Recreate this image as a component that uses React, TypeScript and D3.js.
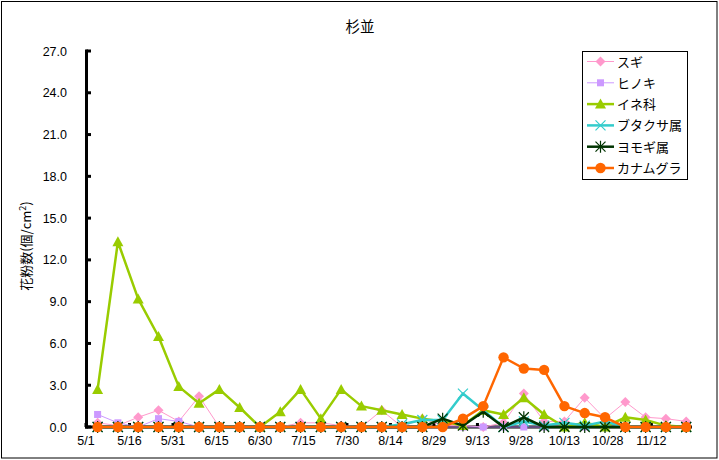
import React from "react";
import * as d3 from "d3";

const dates = ["5/5","5/12","5/19","5/26","6/2","6/9","6/16","6/23","6/30","7/7","7/14","7/21","7/28","8/4","8/11","8/18","8/25","9/1","9/8","9/15","9/22","9/29","10/6","10/13","10/20","10/27","11/3","11/10","11/17","11/24"];
const tickLabels = ["5/1","5/16","5/31","6/15","6/30","7/15","7/30","8/14","8/29","9/13","9/28","10/13","10/28","11/12"];
const yTicks = [0,3,6,9,12,15,18,21,24,27];

const sugi = [0.3,0.1,0.7,1.2,0.4,2.2,0,0,0,0,0.3,0.3,0.1,0,1.2,0,0.6,0.1,0.1,0,0.3,2.4,0.4,0.4,2.1,0.6,1.8,0.7,0.6,0.4];
const hinoki = [0.9,0.3,0,0.6,0.4,0,0,0,0,0,0,0,0,0,0,0,0,0,0,0,0,0,0,0,0,0,0,0,0,0];
const ine = [2.7,13.3,9.2,6.5,2.9,1.7,2.7,1.4,0,1.1,2.7,0.6,2.7,1.5,1.2,0.9,0.6,0.4,0.1,1.2,0.9,2.1,0.9,0,0.3,0,0.7,0.5,0.1,0];
const butakusa = [0,0,0,0,0,0,0,0,0,0,0,0,0,0,0,0.2,0.5,0.5,2.4,1.2,0,0.4,0.1,0.3,0.1,0.4,0,0,0,0];
const yomogi = [0,0,0,0,0,0,0,0,0,0,0,0,0,0,0,0,0,0.6,0.1,1.1,0,0.7,0,0,0,0,0,0,0,0];
const kanamugura = [0,0,0,0,0,0,0,0,0,0,0,0,0,0,0,0,0,0,0.6,1.5,5.0,4.2,4.1,1.5,1.0,0.7,0,0,0,0];

type Marker = "diamond" | "square" | "triangle" | "x" | "star" | "circle";
const series: { name: string; values: number[]; color: string; width: number; marker: Marker }[] = [
  { name: "スギ", values: sugi, color: "#FF99CC", width: 1, marker: "diamond" },
  { name: "ヒノキ", values: hinoki, color: "#CC99FF", width: 1, marker: "square" },
  { name: "イネ科", values: ine, color: "#99CC00", width: 2.5, marker: "triangle" },
  { name: "ブタクサ属", values: butakusa, color: "#33CCCC", width: 2.5, marker: "x" },
  { name: "ヨモギ属", values: yomogi, color: "#003300", width: 2.5, marker: "star" },
  { name: "カナムグラ", values: kanamugura, color: "#FF6600", width: 2.5, marker: "circle" },
];

const YEAR = 2013;
const parse = (s: string) => {
  const [m, d] = s.split("/").map(Number);
  return new Date(Date.UTC(YEAR, m - 1, d));
};

const W = 719, H = 460;
const x = d3.scaleUtc().domain([parse("5/1"), parse("11/26")]).range([86, 692]);
const y = d3.scaleLinear().domain([0, 27]).range([427, 51]);

function MarkerShape({ type, cx, cy, color }: { type: Marker; cx: number; cy: number; color: string }) {
  switch (type) {
    case "diamond":
      return <path d={`M${cx},${cy - 5}L${cx + 5},${cy}L${cx},${cy + 5}L${cx - 5},${cy}Z`} fill={color} />;
    case "square":
      return <rect x={cx - 3.5} y={cy - 3.5} width={7} height={7} fill={color} />;
    case "triangle":
      return <path d={`M${cx},${cy - 5.5}L${cx + 5.5},${cy + 4.5}L${cx - 5.5},${cy + 4.5}Z`} fill={color} />;
    case "x":
      return <path d={`M${cx - 5},${cy - 5}L${cx + 5},${cy + 5}M${cx + 5},${cy - 5}L${cx - 5},${cy + 5}`} stroke={color} strokeWidth={1.2} fill="none" />;
    case "star":
      return <path d={`M${cx - 5},${cy - 5}L${cx + 5},${cy + 5}M${cx + 5},${cy - 5}L${cx - 5},${cy + 5}M${cx},${cy - 6}L${cx},${cy + 6}`} stroke={color} strokeWidth={1.2} fill="none" />;
    case "circle":
      return <circle cx={cx} cy={cy} r={5.2} fill={color} />;
  }
}

export default function App() {
  const line = d3.line<number>().x((_, i) => x(parse(dates[i]))).y((v) => y(v));
  const numFont = "'Liberation Sans', Arial, sans-serif";
  const jpFont = "'Noto Sans CJK JP', sans-serif";
  return (
    <svg width={W} height={H} style={{ position: "absolute", left: 0, top: 0, background: "#fff" }}>
      <rect x={1.5} y={1.5} width={715.5} height={456.5} fill="#fff" stroke="#000" strokeWidth={1} />
      <text x={360} y={32} textAnchor="middle" fontFamily={jpFont} fontSize={14.5}>杉並</text>
      <text transform="translate(31,246) rotate(-90)" textAnchor="middle" fontFamily={jpFont} fontSize={13}>
        花粉数(個/cm<tspan fontSize={9} dy={-5}>2</tspan><tspan dy={5}>)</tspan>
      </text>
      {/* y axis */}
      <line x1={86.5} x2={86.5} y1={y(27) - 1.5} y2={y(0) + 1.5} stroke="#000" strokeWidth={3} />
      {yTicks.map((t) => (
        <g key={t}>
          <line x1={86.5} x2={91} y1={y(t)} y2={y(t)} stroke="#000" strokeWidth={3} />
          <text x={67} y={y(t) + 4.5} textAnchor="end" fontFamily={numFont} fontSize={12.5}>{t.toFixed(1)}</text>
        </g>
      ))}
      {/* x axis */}
      <line x1={85} x2={692} y1={y(0)} y2={y(0)} stroke="#000" strokeWidth={3} />
      {tickLabels.map((t) => (
        <g key={t}>
          <line x1={x(parse(t))} x2={x(parse(t))} y1={y(0)} y2={y(0) - 4} stroke="#000" strokeWidth={3} />
          <text x={x(parse(t))} y={445} textAnchor="middle" fontFamily={numFont} fontSize={12.5}>{t}</text>
        </g>
      ))}
      {/* series */}
      {series.map((s) => (
        <g key={s.name}>
          <path d={line(s.values) || ""} fill="none" stroke={s.color} strokeWidth={s.width} strokeLinejoin="round" />
          {s.values.map((v, i) => (
            <MarkerShape key={i} type={s.marker} cx={x(parse(dates[i]))} cy={y(v)} color={s.color} />
          ))}
        </g>
      ))}
      {/* legend */}
      <rect x={582.5} y={51.5} width={105} height={128} fill="#fff" stroke="#000" strokeWidth={1} />
      {series.map((s, i) => {
        const ly = 61.5 + i * 21.3;
        return (
          <g key={s.name}>
            <line x1={587} x2={614} y1={ly} y2={ly} stroke={s.color} strokeWidth={s.width} />
            <MarkerShape type={s.marker} cx={600.5} cy={ly} color={s.color} />
            <text x={617} y={ly + 5} fontFamily={jpFont} fontSize={13}>{s.name}</text>
          </g>
        );
      })}
    </svg>
  );
}
